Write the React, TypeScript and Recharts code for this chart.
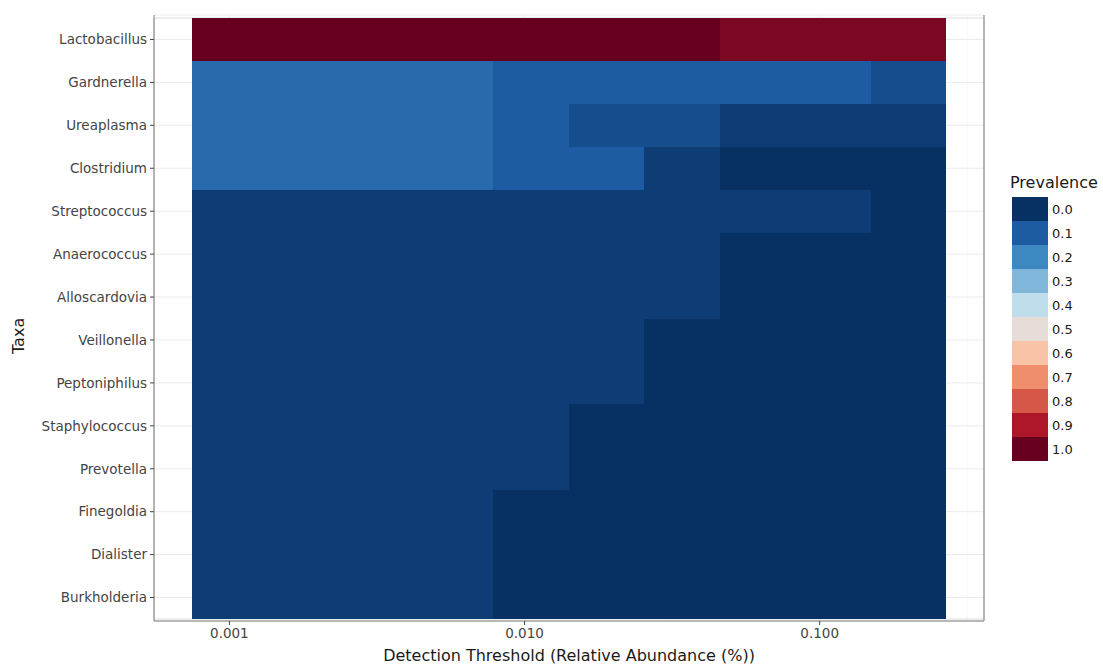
import React from 'react';
import {
  BarChart,
  Bar,
  XAxis,
  YAxis,
  CartesianGrid,
  Cell,
  ReferenceLine,
  ReferenceArea,
} from 'recharts';

// Taxa, top to bottom
const taxa = [
  'Lactobacillus',
  'Gardnerella',
  'Ureaplasma',
  'Clostridium',
  'Streptococcus',
  'Anaerococcus',
  'Alloscardovia',
  'Veillonella',
  'Peptoniphilus',
  'Staphylococcus',
  'Prevotella',
  'Finegoldia',
  'Dialister',
  'Burkholderia',
];

// Detection thresholds (relative abundance, %)
const thresholds = [0.001, 0.0018, 0.00325, 0.00585, 0.0105, 0.019, 0.0342, 0.0616, 0.111, 0.2];

// Prevalence of each taxon at each detection threshold
const lactobacillus = [1, 1, 1, 1, 1, 1, 1, 0.97, 0.97, 0.97];
const gardnerella = [0.135, 0.135, 0.135, 0.135, 0.1, 0.1, 0.1, 0.1, 0.1, 0.065];
const ureaplasma = [0.135, 0.135, 0.135, 0.135, 0.1, 0.065, 0.065, 0.027, 0.027, 0.027];
const clostridium = [0.135, 0.135, 0.135, 0.135, 0.1, 0.1, 0.027, 0, 0, 0];
const streptococcus = [0.027, 0.027, 0.027, 0.027, 0.027, 0.027, 0.027, 0.027, 0.027, 0];
const anaerococcus = [0.027, 0.027, 0.027, 0.027, 0.027, 0.027, 0.027, 0, 0, 0];
const alloscardovia = [0.027, 0.027, 0.027, 0.027, 0.027, 0.027, 0.027, 0, 0, 0];
const veillonella = [0.027, 0.027, 0.027, 0.027, 0.027, 0.027, 0, 0, 0, 0];
const peptoniphilus = [0.027, 0.027, 0.027, 0.027, 0.027, 0.027, 0, 0, 0, 0];
const staphylococcus = [0.027, 0.027, 0.027, 0.027, 0.027, 0, 0, 0, 0, 0];
const prevotella = [0.027, 0.027, 0.027, 0.027, 0.027, 0, 0, 0, 0, 0];
const finegoldia = [0.027, 0.027, 0.027, 0.027, 0, 0, 0, 0, 0, 0];
const dialister = [0.027, 0.027, 0.027, 0.027, 0, 0, 0, 0, 0, 0];
const burkholderia = [0.027, 0.027, 0.027, 0.027, 0, 0, 0, 0, 0, 0];

const prevalence = [
  lactobacillus,
  gardnerella,
  ureaplasma,
  clostridium,
  streptococcus,
  anaerococcus,
  alloscardovia,
  veillonella,
  peptoniphilus,
  staphylococcus,
  prevotella,
  finegoldia,
  dialister,
  burkholderia,
];

// Axis breaks
const xMajorBreaks = [0.001, 0.01, 0.1];
const xMinorBreaks = [0.00316228, 0.0316228, 0.316228];

// Legend breaks and the diverging palette behind the fill scale
const legendBreaks = [0, 0.1, 0.2, 0.3, 0.4, 0.5, 0.6, 0.7, 0.8, 0.9, 1.0];
const paletteColors = [
  '#073163',
  '#1d5ca3',
  '#3d88c0',
  '#7fb6d9',
  '#c0ddeb',
  '#e6ddd8',
  '#f8c3a6',
  '#ee8e6c',
  '#d45747',
  '#ae162a',
  '#67001f',
];

const hexToRgb = (h: string) => [
  parseInt(h.slice(1, 3), 16),
  parseInt(h.slice(3, 5), 16),
  parseInt(h.slice(5, 7), 16),
];

const fillFor = (v: number) => {
  const n = legendBreaks.length;
  if (v <= legendBreaks[0]) return paletteColors[0];
  if (v >= legendBreaks[n - 1]) return paletteColors[n - 1];
  let i = 0;
  while (legendBreaks[i + 1] < v) i++;
  const t = (v - legendBreaks[i]) / (legendBreaks[i + 1] - legendBreaks[i]);
  const a = hexToRgb(paletteColors[i]);
  const b = hexToRgb(paletteColors[i + 1]);
  const c = a.map((x, j) => Math.round(x + (b[j] - x) * t));
  return `rgb(${c[0]},${c[1]},${c[2]})`;
};

// Tile edges in log10 space: midpoints between neighbouring thresholds
const logs = thresholds.map((t) => Math.log10(t));
const edges: number[] = [logs[0] - (logs[1] - logs[0]) / 2];
for (let k = 1; k < logs.length; k++) edges.push((logs[k - 1] + logs[k]) / 2);
edges.push(logs[logs.length - 1] + (logs[logs.length - 1] - logs[logs.length - 2]) / 2);
const origin = edges[0];
const widths = thresholds.map((_, k) => edges[k + 1] - edges[k]);
const span = edges[edges.length - 1] - origin;
const pad = span * 0.05;
const xDomain: [number, number] = [-pad, span + pad];

// Position along the x axis, measured from the left edge of the first tile
const toU = (t: number) => Math.log10(t) - origin;
const fromU = (u: number) => Math.pow(10, u + origin);

const rows = taxa.map((taxon) => {
  const row: Record<string, number | string> = { taxon };
  widths.forEach((w, k) => {
    row[`w${k}`] = w;
  });
  return row;
});

const FONT = '"DejaVu Sans", sans-serif';

const App = () => {
  return (
    <div
      style={{
        position: 'absolute',
        left: 0,
        top: 0,
        width: 1103,
        height: 666,
        background: '#fff',
        fontFamily: FONT,
      }}
    >
      <BarChart
        width={1103}
        height={666}
        data={rows}
        layout="vertical"
        barCategoryGap={0}
        barGap={0}
        margin={{ top: 15, right: 119, bottom: 0, left: 0 }}
      >
        <CartesianGrid
          stroke="#ebebeb"
          strokeWidth={1}
          vertical={true}
          horizontal={true}
          verticalValues={xMajorBreaks.map(toU)}
        />
        <CartesianGrid
          stroke="#f2f2f2"
          strokeWidth={0.6}
          horizontal={false}
          vertical={true}
          verticalValues={xMinorBreaks.map(toU)}
        />
        <XAxis
          type="number"
          domain={xDomain}
          allowDataOverflow
          ticks={xMajorBreaks.map(toU)}
          tickFormatter={(u: number) => fromU(u).toFixed(3)}
          height={45}
          tickSize={4}
          tickMargin={3}
          tick={{ fontSize: 13.5, fill: '#444', fontFamily: FONT }}
          tickLine={{ stroke: '#444' }}
          axisLine={{ stroke: '#7a7a7a' }}
          label={{
            value: 'Detection Threshold (Relative Abundance (%))',
            position: 'insideBottom',
            offset: 5,
            fill: '#1a1a1a',
            fontSize: 16,
            fontFamily: FONT,
          }}
        />
        <YAxis
          type="category"
          dataKey="taxon"
          width={154}
          padding={{ top: 3, bottom: 2 }}
          interval={0}
          tickSize={4}
          tickMargin={3}
          tick={{ fontSize: 13.5, fill: '#444', fontFamily: FONT }}
          tickLine={{ stroke: '#444' }}
          axisLine={{ stroke: '#7a7a7a' }}
          label={{
            value: 'Taxa',
            angle: -90,
            position: 'insideLeft',
            offset: 18,
            fill: '#1a1a1a',
            fontSize: 16,
            fontFamily: FONT,
            dy: 36,
          }}
        />
        <ReferenceArea
          x1={xDomain[0]}
          x2={xDomain[1]}
          fill="none"
          stroke="#dcdcdc"
          ifOverflow="extendDomain"
        />
        {thresholds.map((_, k) => (
          <Bar key={k} dataKey={`w${k}`} stackId="tiles" isAnimationActive={false}>
            {taxa.map((name, i) => (
              <Cell
                key={name}
                fill={fillFor(prevalence[i][k])}
                stroke="none"
                shapeRendering="crispEdges"
              />
            ))}
          </Bar>
        ))}
        <ReferenceLine x={xDomain[1]} stroke="#7a7a7a" strokeWidth={1} />
      </BarChart>

      <div style={{ position: 'absolute', left: 1010, top: 173, fontFamily: FONT }}>
        <div style={{ fontSize: 16, color: '#1a1a1a', lineHeight: '20px', marginBottom: 4 }}>
          Prevalence
        </div>
        {legendBreaks.map((b, i) => (
          <div key={b} style={{ display: 'flex', alignItems: 'center', height: 24, marginLeft: 2 }}>
            <div style={{ width: 36, height: 24, background: paletteColors[i] }} />
            <span style={{ fontSize: 13, color: '#1a1a1a', marginLeft: 4 }}>{b.toFixed(1)}</span>
          </div>
        ))}
      </div>
    </div>
  );
};

export default App;
